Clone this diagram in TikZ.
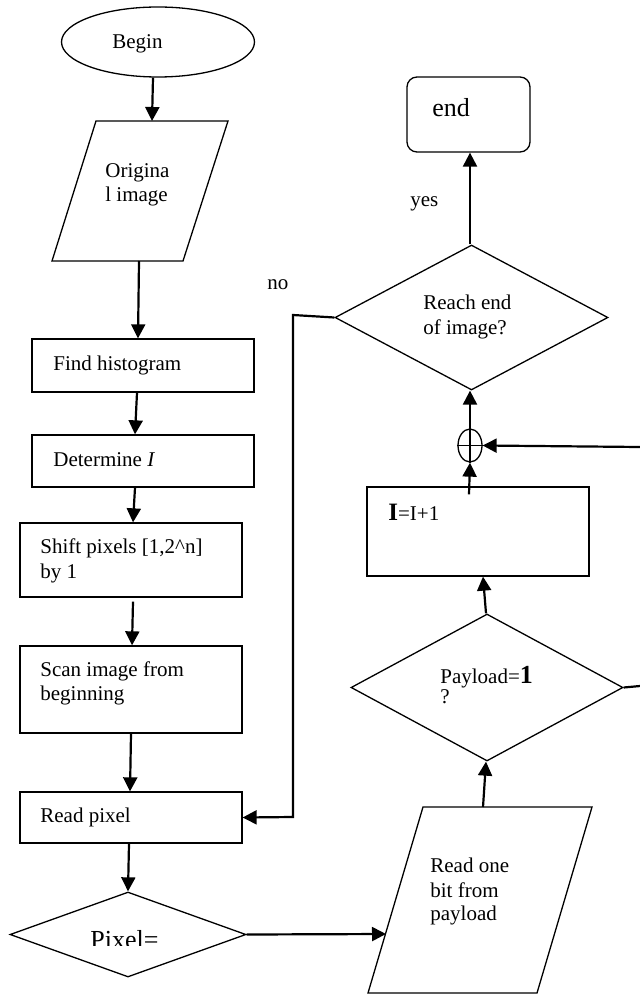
\documentclass[tikz,border=0pt]{standalone}
\usepackage{fontspec}
\setmainfont{Liberation Serif}
\usetikzlibrary{arrows.meta,shapes.geometric,calc}
\begin{document}
\begin{tikzpicture}[x=0.5pt,y=-0.5pt,
  outline/.style={draw,line width=0.65pt,inner sep=0pt},
  boxnode/.style={outline,rectangle,minimum width=111pt},
  shapeline/.style={line width=0.65pt,line join=miter},
  conn/.style={line width=1.1pt,-{Triangle[length=7pt,width=7pt]}},
  plainline/.style={line width=1.1pt},
  txt/.style={anchor=base west,inner sep=0pt,font=\fontsize{10.5}{12}\selectfont},
  bigtxt/.style={anchor=base west,inner sep=0pt,font=\fontsize{13}{15}\selectfont}]
\useasboundingbox (0,0) rectangle (640,994);

% ---------- shapes ----------
\node[outline,ellipse,minimum width=96.5pt,minimum height=35pt] (begin) at (158,42) {};
\draw[shapeline] (96,121) -- (228,121) -- (183,261) -- (52,261) -- cycle;
\coordinate (origtop) at (152,121);
\coordinate (origbot) at (139,261);
\node[boxnode,minimum height=26.5pt] (fh) at (143,365.5) {};
\node[boxnode,minimum height=26pt] (det) at (143,461) {};
\node[boxnode,minimum height=37pt] (shift) at (131,560) {};
\node[boxnode,minimum height=43.5pt] (scan) at (131,689.5) {};
\node[boxnode,minimum height=25.5pt] (read) at (131,817.5) {};
\node[outline,diamond,minimum width=118pt,minimum height=42.5pt] (pix) at (128,934.5) {};

\draw[shapeline] (423,807) -- (592,807) -- (537,993) -- (368,993) -- cycle;
\coordinate (robin) at (386,934);
\coordinate (robtop) at (483,807);
\node[outline,diamond,minimum width=136pt,minimum height=73.5pt] (pay) at (487,687.5) {};
\node[boxnode,minimum height=44.5pt] (inc) at (478,531.5) {};
\node[outline,ellipse,minimum width=12pt,minimum height=16.5pt] (oplus) at (470,445.5) {};
\draw[shapeline] (oplus.west) -- (oplus.east);
\draw[plainline] (oplus.north) -- (oplus.south);
\node[outline,diamond,minimum width=136.5pt,minimum height=72.5pt] (reach) at (471.5,317.5) {};
\node[outline,rectangle,rounded corners=5pt,minimum width=61.5pt,minimum height=37.5pt] (endb) at (468.5,114.5) {};

\coordinate (rightin) at (640,447);
\coordinate (rightout) at (640,686);
\coordinate (nocornerA) at (293,315);
\coordinate (nocornerB) at (293,817);

% ---------- texts ----------
\node[txt] (tbegin) at (112,49) {Begin};
\node[txt] (torigA) at (105,178) {Origina};
\node[txt] (torigB) at (105,202) {l image};
\node[txt] (tfh) at (53,370) {Find histogram};
\node[txt] (tdet) at (53,466) {Determine \textit{I}};
\node[txt] (tshiftA) at (40,553) {Shift pixels [1,2\^{}n]};
\node[txt] (tshiftB) at (40,578) {by 1};
\node[txt] (tscanA) at (40,676) {Scan image from};
\node[txt] (tscanB) at (40,700) {beginning};
\node[txt] (tread) at (40,822) {Read pixel};
\begin{scope}
  \clip (0,900) rectangle (640,945);
  \node[bigtxt] (tpix) at (90,948) {Pixel=};
\end{scope}
\node[txt] (trobA) at (430,872) {Read one};
\node[txt] (trobB) at (430,897) {bit from};
\node[txt] (trobC) at (430,920) {payload};
\node[txt] (tpayA) at (440,683) {Payload=\textbf{\fontsize{13}{15}\selectfont 1}};
\node[txt] (tpayB) at (440,703) {?};
\node[txt] (tinc) at (388,520) {\textbf{\fontsize{12.5}{15}\selectfont I}=I+1};
\node[txt] (treachA) at (423,309) {Reach end};
\node[txt] (treachB) at (423,335) {of image?};
\node[bigtxt] (tend) at (432,117) {end};
\node[txt] (tyes) at (410,207) {yes};
\node[txt] (tno) at (267,290) {no};

% ---------- connectors ----------
\draw[conn] ($(begin.south)+(-5,0)$) -- (origtop);
\draw[conn] (origbot) -- ($(fh.north)+(-5,0)$);
\draw[conn] ($(fh.south)+(-6,0)$) -- ($(det.north)+(-8,0)$);
\draw[conn] ($(det.south)+(-8,0)$) -- ($(shift.north)+(2,0)$);
\draw[conn] ($(shift.south)+(2,4)$) -- ($(scan.north)+(1,0)$);
\draw[conn] (scan.south) -- ($(read.north)+(-1,0)$);
\draw[conn] ($(read.south)+(-2,0)$) -- (pix.north);
\draw[conn] (pix.east) -- (robin);
\draw[conn] (robtop) -- ($(pay.south)+(-1,0)$);
\draw[conn] ($(pay.north)+(-1,0)$) -- ($(inc.south)+(5,0)$);
\draw[conn] ($(inc.north)+(-9,8)$) -- (oplus.south);
\draw[conn] (rightin) -- (oplus.east);
\draw[conn] (oplus.north) -- ($(reach.south)+(-1.5,0)$);
\draw[conn] ($(reach.north)+(-1.5,0)$) -- ($(endb.south)+(1.5,0)$);
\draw[conn] (reach.west) -- (nocornerA) -- (nocornerB) -- (read.east);
\draw[plainline] (pay.east) -- (rightout);
\end{tikzpicture}
\end{document}
